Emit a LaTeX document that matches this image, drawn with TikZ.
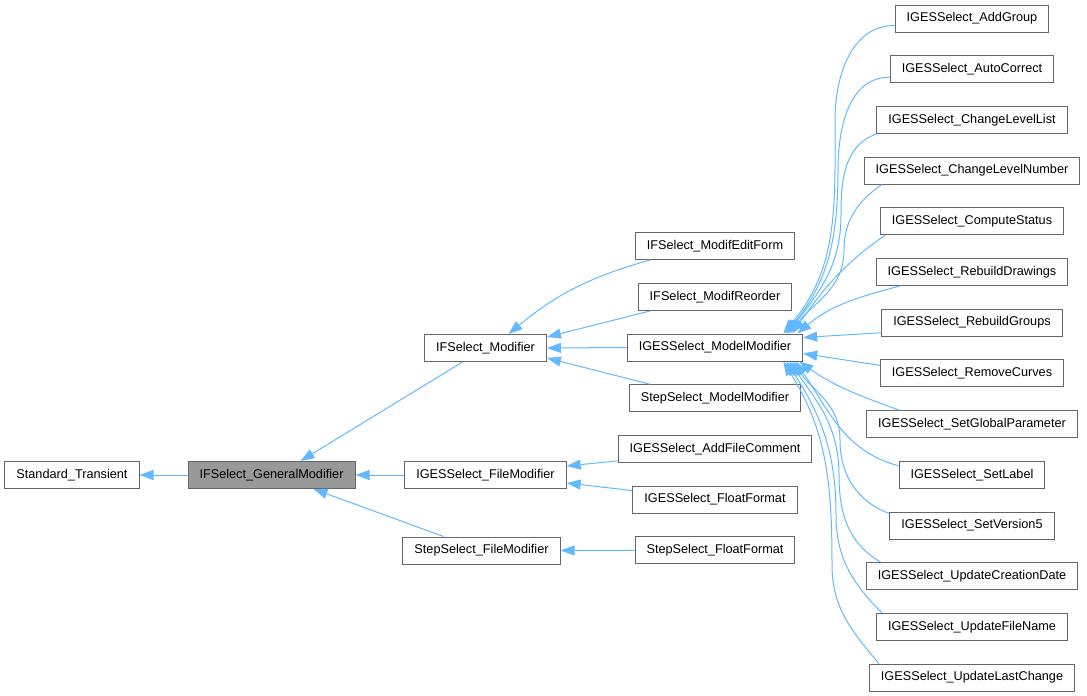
\documentclass[tikz,border=0pt]{standalone}
\usepackage{fontspec}
\setmainfont{Liberation Sans}
\usetikzlibrary{arrows.meta,positioning}
\definecolor{edgeblue}{HTML}{63B8FF}
\definecolor{boxline}{HTML}{666666}
\definecolor{basefill}{HTML}{999999}

\begin{document}
\begin{tikzpicture}[
  x=1pt,y=1pt,
  node distance=22.7pt,
  cls/.style={draw=boxline,line width=1pt,fill=white,minimum height=27pt,
    inner xsep=11.5pt,inner ysep=2pt,font=\fontsize{12.7}{15}\selectfont},
  edge/.style={draw=edgeblue,line width=1pt,-{Triangle[length=14pt,width=10pt]}}
]
\useasboundingbox (0,0) rectangle (1087,-696);

% left part
\node[cls,fill=basefill] (gm) at (271.5,-475) {IFSelect\_GeneralModifier};
\node[cls,left=48pt of gm] (st) {Standard\_Transient};
\node[cls] (ifm) at (485.5,-348) {IFSelect\_Modifier};
\node[cls] (igfm) at (485.5,-475) {IGESSelect\_FileModifier};
\node[cls] (sfm) at (481.5,-550.5) {StepSelect\_FileModifier};

% middle column
\node[cls] (mm) at (715,-347.5) {IGESSelect\_ModelModifier};
\node[cls,above=of mm] (mr) {IFSelect\_ModifReorder};
\node[cls,above=of mr] (mef) {IFSelect\_ModifEditForm};
\node[cls,below=of mm] (smm) {StepSelect\_ModelModifier};
\node[cls,below=of smm] (afc) {IGESSelect\_AddFileComment};
\node[cls,below=of afc] (igff) {IGESSelect\_FloatFormat};
\node[cls,below=of igff] (sff) {StepSelect\_FloatFormat};

% right column
\node[cls] (ag) at (972,-18.5) {IGESSelect\_AddGroup};
\node[cls,below=of ag] (ac) {IGESSelect\_AutoCorrect};
\node[cls,below=of ac] (cll) {IGESSelect\_ChangeLevelList};
\node[cls,below=of cll] (cln) {IGESSelect\_ChangeLevelNumber};
\node[cls,below=of cln] (cs) {IGESSelect\_ComputeStatus};
\node[cls,below=of cs] (rd) {IGESSelect\_RebuildDrawings};
\node[cls,below=of rd] (rg) {IGESSelect\_RebuildGroups};
\node[cls,below=of rg] (rc) {IGESSelect\_RemoveCurves};
\node[cls,below=of rc] (sgp) {IGESSelect\_SetGlobalParameter};
\node[cls,below=of sgp] (sl) {IGESSelect\_SetLabel};
\node[cls,below=of sl] (sv) {IGESSelect\_SetVersion5};
\node[cls,below=of sv] (ucd) {IGESSelect\_UpdateCreationDate};
\node[cls,below=of ucd] (ufn) {IGESSelect\_UpdateFileName};
\node[cls,below=of ufn] (ulc) {IGESSelect\_UpdateLastChange};

% inheritance edges
\draw[edge] (gm.west) -- (st.east);
\draw[edge] ([xshift=-23]ifm.south) -- ([xshift=29]gm.north);
\draw[edge] (igfm.west) -- (gm.east);
\draw[edge] ([xshift=-38]sfm.north) -- ([xshift=42]gm.south);
\draw[edge] ([xshift=15]mef.south west) to[bend right=12] ([xshift=23]ifm.north);
\draw[edge] ([xshift=13]mr.south west) -- ([yshift=11]ifm.east);
\draw[edge] (mm.west) -- (ifm.east);
\draw[edge] ([xshift=21]smm.north west) -- ([yshift=-10]ifm.east);
\draw[edge] ([yshift=-12]afc.west) -- ([yshift=9]igfm.east);
\draw[edge] ([yshift=9]igff.west) -- ([yshift=-8]igfm.east);
\draw[edge] (sff.west) -- (sfm.east);

% into IGESSelect_ModelModifier from above
\draw[edge] ([yshift=-7]ag.west) to[out=180,in=90] (835,-120) to[out=-90,in=50] ([xshift=-20]mm.north east);
\draw[edge] ([yshift=-8]ac.west) to[out=180,in=90] (838,-170) to[out=-90,in=50] ([xshift=-18]mm.north east);
\draw[edge] (cll.south west) to[out=200,in=90] (841,-215) to[out=-90,in=52] ([xshift=-16]mm.north east);
\draw[edge] ([xshift=18]cln.south west) to[out=215,in=90] (844,-250) to[out=-90,in=52] ([xshift=-14]mm.north east);
\draw[edge] ([xshift=5]cs.south west) to[out=215,in=55] ([xshift=-11]mm.north east);
\draw[edge] ([xshift=24]rd.south west) to[out=195,in=40] ([xshift=-6]mm.north east);
\draw[edge] ([yshift=-10]rg.west) -- ([yshift=10]mm.east);

% into IGESSelect_ModelModifier from below
\draw[edge] ([yshift=8]rc.west) -- ([yshift=-6]mm.east);
\draw[edge] ([xshift=33]sgp.north west) to[out=160,in=-35] ([xshift=-4]mm.south east);
\draw[edge] ([yshift=9]sl.west) to[out=165,in=-55] ([xshift=-8]mm.south east);
\draw[edge] ([yshift=12]sv.west) to[out=160,in=-90] (840,-440) to[out=90,in=-55] ([xshift=-11]mm.south east);
\draw[edge] ([xshift=15]ucd.north west) to[out=150,in=-90] (839,-475) to[out=90,in=-55] ([xshift=-14]mm.south east);
\draw[edge] ([xshift=6]ufn.north west) to[out=135,in=-90] (836,-515) to[out=90,in=-57] ([xshift=-17]mm.south east);
\draw[edge] ([xshift=10]ulc.north west) to[out=130,in=-90] (832,-565) to[out=90,in=-58] ([xshift=-20]mm.south east);
\end{tikzpicture}
\end{document}
